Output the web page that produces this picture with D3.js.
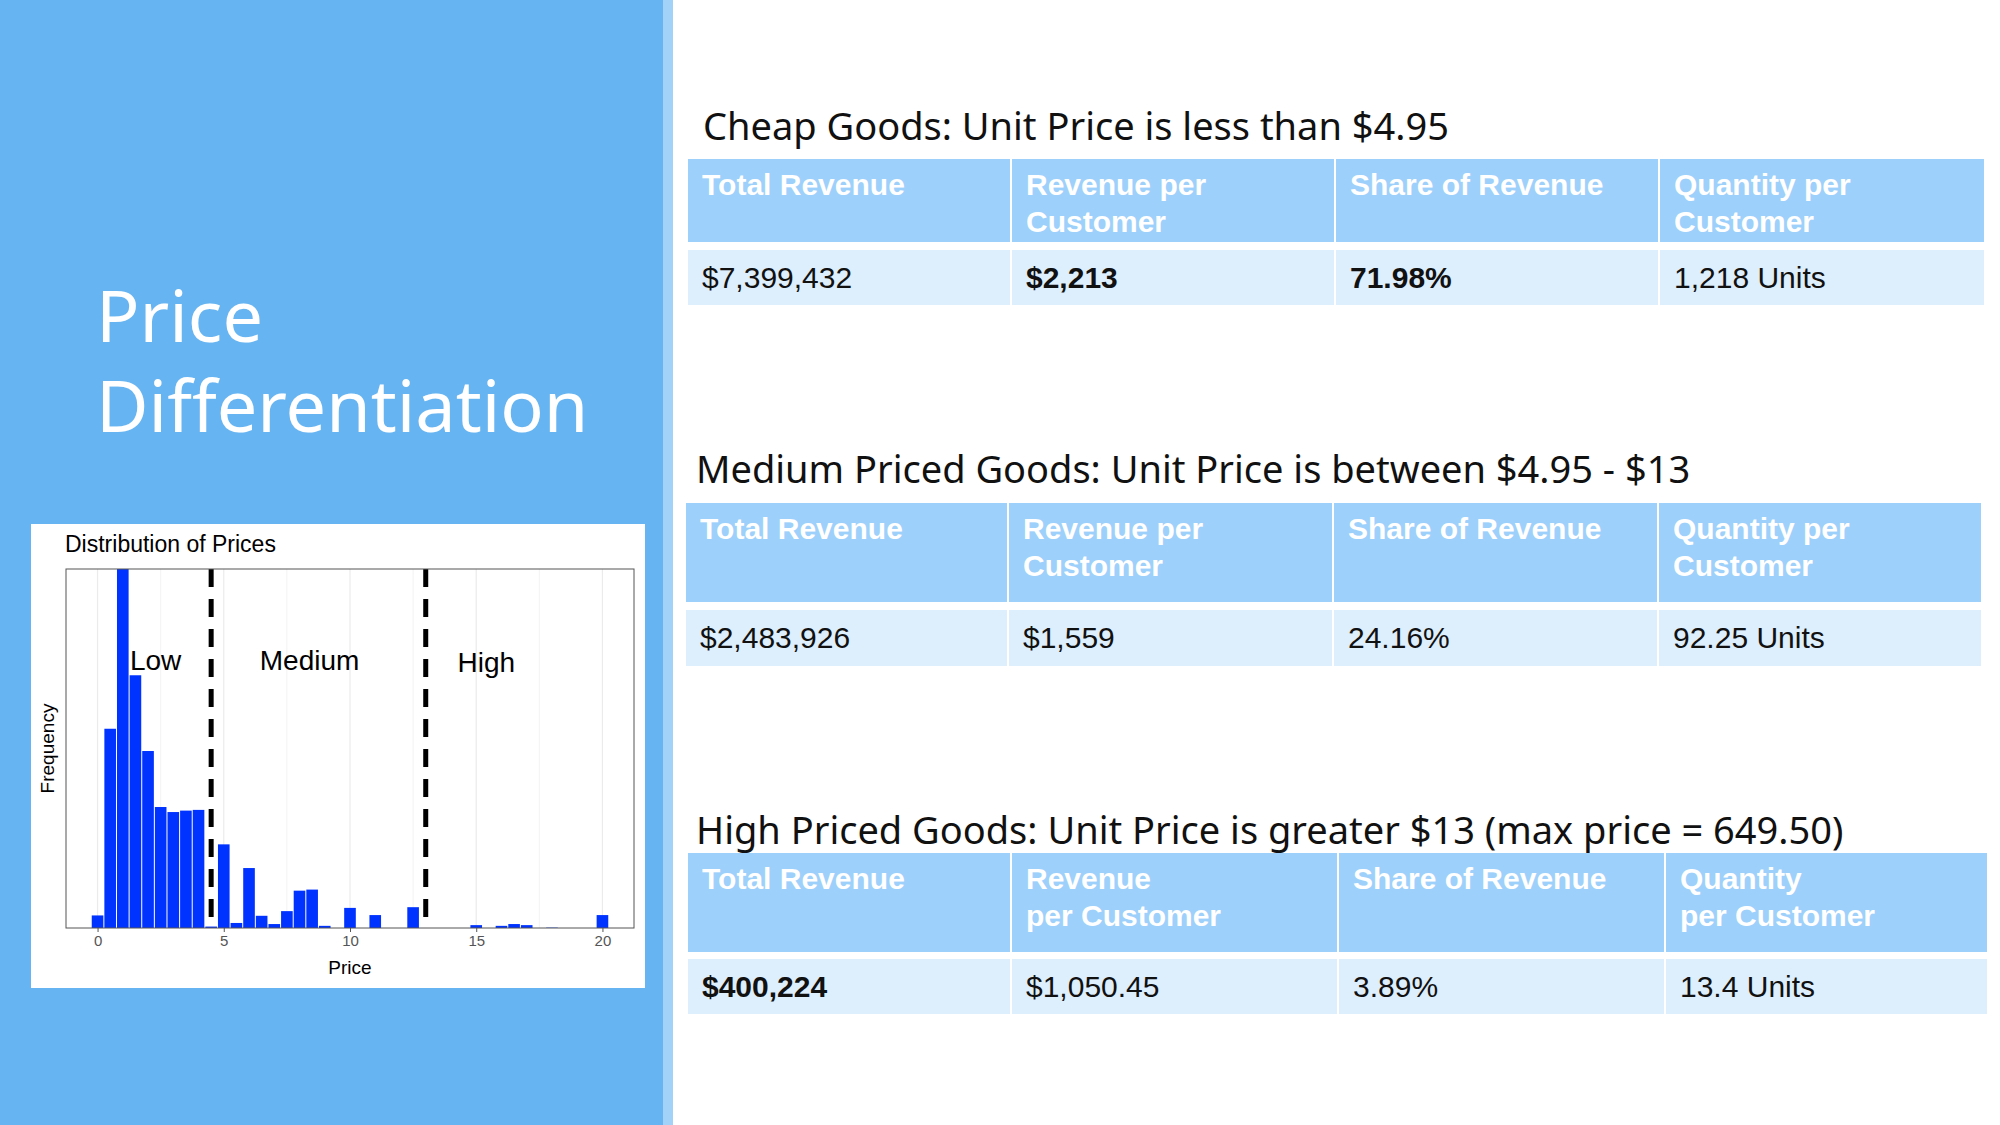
<!DOCTYPE html>
<html><head><meta charset="utf-8">
<script src="https://cdn.jsdelivr.net/npm/d3@7"></script>
<style>body{margin:0;background:#fff}svg{display:block}</style>
</head><body><svg id="c" width="2000" height="1125"></svg>
<script>
const binCenters = [0,0.5,1,1.5,2,2.5,3,3.5,4,4.5,5,5.5,6,6.5,7,7.5,8,8.5,9,9.5,10,10.5,11,11.5,12,12.5,13,13.5,14,14.5,15,15.5,16,16.5,17,17.5,18,18.5,19,19.5,20];
const binCounts  = [175,2775,5000,3520,2465,1685,1615,1635,1645,20,1165,70,835,170,55,235,520,535,30,0,280,0,180,0,0,290,0,0,0,0,40,0,30,55,40,0,5,0,0,0,180];
const xTicks = [0,5,10,15,20];
const cutoffs = [4.5,13];
const regionLabels = [{t:"Low",x:2.3,y:0.74},{t:"Medium",x:8.4,y:0.74},{t:"High",x:15.4,y:0.735}];
const headers = ["Total Revenue","Revenue per|Customer","Share of Revenue","Quantity per|Customer"];
const headers3 = ["Total Revenue","Revenue|per Customer","Share of Revenue","Quantity|per Customer"];
const tableTitles = ["Cheap Goods: Unit Price is less than $4.95","Medium Priced Goods: Unit Price is between $4.95 - $13","High Priced Goods: Unit Price is greater $13 (max price = 649.50)"];
const rows = [["$7,399,432","$2,213","71.98%","1,218 Units"],["$2,483,926","$1,559","24.16%","92.25 Units"],["$400,224","$1,050.45","3.89%","13.4 Units"]];
const boldCells = [[1,2],[],[0]];

const svg = d3.select("#c");
svg.append("rect").attr("width",663).attr("height",1125).attr("fill","#66b4f1");
svg.append("rect").attr("x",663).attr("width",10).attr("height",1125).attr("fill","#a3d2f8");
const tt = svg.append("text").attr("fill","#fff").attr("font-family","Noto Sans").attr("font-size",72);
tt.append("tspan").attr("x",96).attr("y",342).text("Price");
tt.append("tspan").attr("x",96).attr("y",432).text("Differentiation");

// histogram card
svg.append("rect").attr("x",31).attr("y",524).attr("width",614).attr("height",464).attr("fill","#fff");
svg.append("text").attr("x",65).attr("y",552).attr("font-family","Liberation Sans").attr("font-size",23).text("Distribution of Prices");
const L=66,R=634,T=569,B=928;
const x=d3.scaleLinear().domain([-1.25,21.25]).range([L,R]);
const y=d3.scaleLinear().domain([0,5000]).range([B,T]);
const g=svg.append("g");
g.selectAll(".gl").data(d3.range(0,21,2.5)).join("line").attr("x1",d=>x(d)).attr("x2",d=>x(d)).attr("y1",T).attr("y2",B).attr("stroke","#ebebeb").attr("stroke-width",d=>d%5==0?1.2:0.6);
const bw=x(0.5)-x(0);
g.selectAll(".b").data(binCenters).join("rect").attr("x",(d)=>x(d)-bw/2+0.5).attr("width",bw-1)
 .attr("y",(d,i)=>y(binCounts[i])).attr("height",(d,i)=>B-y(binCounts[i])).attr("fill","#0033ff");
g.selectAll(".cut").data(cutoffs).join("line").attr("x1",d=>x(d)).attr("x2",d=>x(d)).attr("y1",T).attr("y2",B).attr("stroke","#000").attr("stroke-width",5).attr("stroke-dasharray","18,12");
g.append("rect").attr("x",L).attr("y",T).attr("width",R-L).attr("height",B-T).attr("fill","none").attr("stroke","#555").attr("stroke-width",1);
const ax=g.append("g").attr("transform",`translate(0,${B})`).call(d3.axisBottom(x).tickValues(xTicks).tickSize(4));
ax.select(".domain").remove();
ax.selectAll("text").attr("font-family","Liberation Sans").attr("font-size",15).attr("fill","#555");
ax.selectAll("line").attr("stroke","#555");
svg.append("text").attr("x",(L+R)/2).attr("y",974).attr("text-anchor","middle").attr("font-family","Liberation Sans").attr("font-size",19).text("Price");
svg.append("text").attr("transform",`translate(54,${(T+B)/2}) rotate(-90)`).attr("text-anchor","middle").attr("font-family","Liberation Sans").attr("font-size",19).text("Frequency");
g.selectAll(".rl").data(regionLabels).join("text").attr("x",d=>x(d.x)).attr("y",d=>T+(B-T)*(1-d.y)+8).attr("text-anchor","middle").attr("font-family","Liberation Sans").attr("font-size",28).text(d=>d.t);

// tables
const tables=[
 {tx:703,ty:140,cols:[687,1011,1335,1659,1985],h:[159,242],d:[250,305],hd:headers},
 {tx:696,ty:483,cols:[685,1008,1333,1658,1982],h:[503,602],d:[610,666],hd:headers},
 {tx:696,ty:844,cols:[687,1011,1338,1665,1988],h:[853,952],d:[959,1014],hd:headers3}];
tables.forEach((tb,ti)=>{
  svg.append("text").attr("x",tb.tx).attr("y",tb.ty).attr("font-family","Noto Sans").attr("font-size",38).attr("fill","#111").text(tableTitles[ti]);
  for(let c=0;c<4;c++){
    const x0=tb.cols[c]+1,x1=tb.cols[c+1]-1;
    svg.append("rect").attr("x",x0).attr("y",tb.h[0]).attr("width",x1-x0).attr("height",tb.h[1]-tb.h[0]).attr("fill","#9dd0fb");
    svg.append("rect").attr("x",x0).attr("y",tb.d[0]).attr("width",x1-x0).attr("height",tb.d[1]-tb.d[0]).attr("fill","#ddeefd");
    const ht=svg.append("text").attr("font-family","Liberation Sans").attr("font-weight","bold").attr("font-size",30).attr("fill","#fff");
    tb.hd[c].split("|").forEach((s,k)=>ht.append("tspan").attr("x",x0+14).attr("y",tb.h[0]+36+k*37).text(s));
    svg.append("text").attr("x",x0+14).attr("y",(tb.d[0]+tb.d[1])/2+10).attr("font-family","Liberation Sans").attr("font-size",30)
      .attr("font-weight",boldCells[ti].includes(c)?"bold":"normal").attr("fill","#111").text(rows[ti][c]);
  }
});
</script></body></html>
